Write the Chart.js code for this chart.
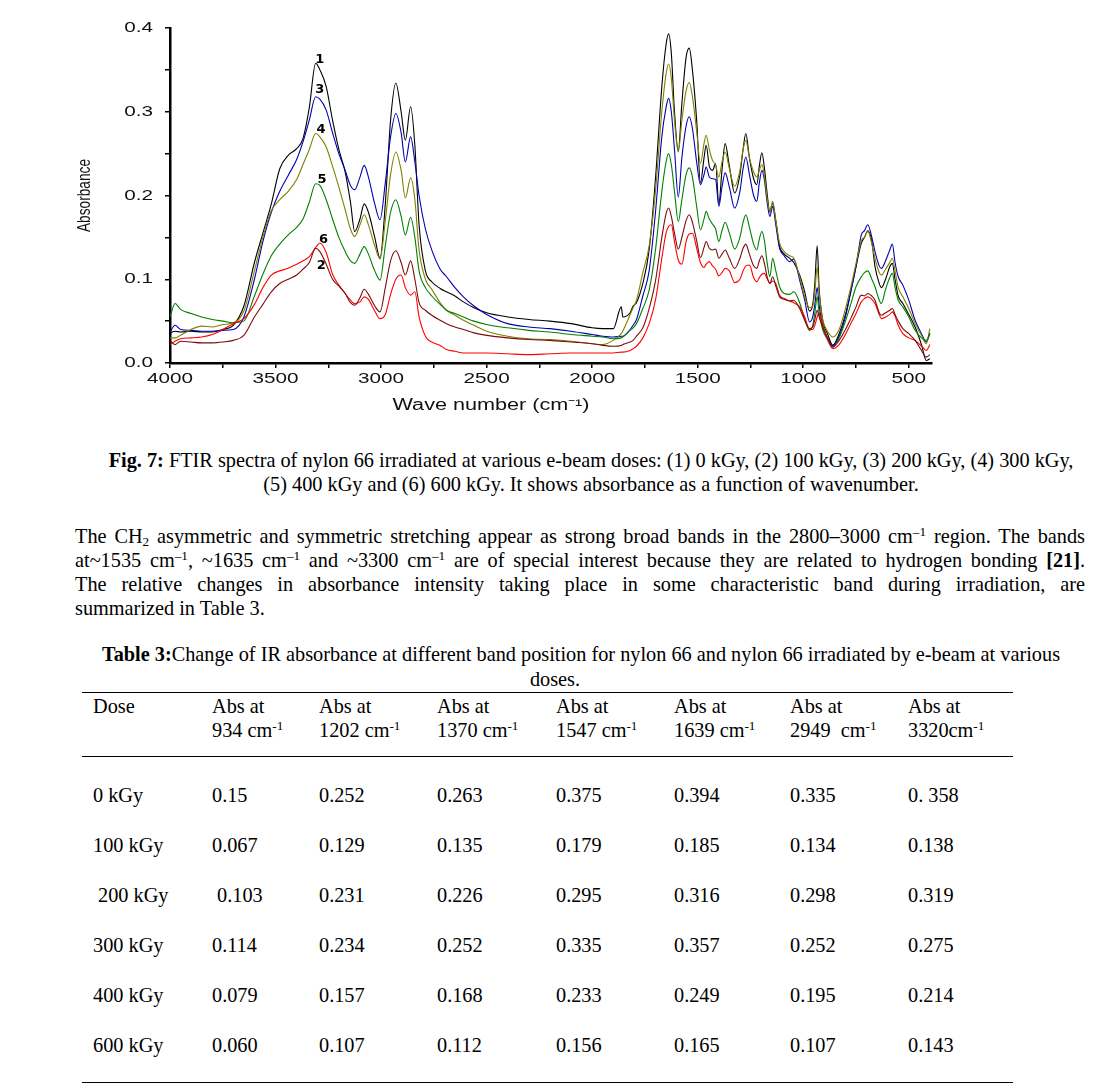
<!DOCTYPE html>
<html>
<head>
<meta charset="utf-8">
<script src="https://cdn.jsdelivr.net/npm/chart.js@4.4.1/dist/chart.umd.min.js"></script>
<style>
  html, body { margin: 0; padding: 0; background: #fff; }
  #page { position: relative; width: 1096px; height: 1092px; overflow: hidden;
          font-family: "Liberation Serif", "Times New Roman", serif; font-size: 20.3px; color: #000; }
  #chartBox { position: absolute; left: 0; top: 0; width: 960px; height: 420px; }
  .line { position: absolute; white-space: nowrap; line-height: 24px; }
  .center { text-align: center; }
  .just { text-align: justify; text-align-last: justify; white-space: normal; }
  sup { font-size: 0.65em; line-height: 0; vertical-align: 0.55em; }
  sub { font-size: 0.65em; line-height: 0; vertical-align: -0.25em; }
  #absTable { position: absolute; left: 82px; top: 692px; width: 931px; border-collapse: collapse;
              table-layout: fixed; font-size: 20.3px; }
  #absTable th { font-weight: normal; text-align: left; vertical-align: top; line-height: 24px;
                 padding: 1px 0 14px 11px; border-top: 1.5px solid #000; border-bottom: 1.5px solid #000; }
  #absTable td { text-align: left; padding: 0 0 0 11px; height: 50px; line-height: 50px; white-space: pre; }
  #absTable tr.gap td { height: 13px; line-height: 13px; }
  #absTable tr.end td { height: 12px; line-height: 12px; border-bottom: 1.5px solid #000; }
</style>
</head>
<body>
<div id="page">
  <div id="chartBox"><canvas id="ftirChart" width="960" height="420"></canvas></div>

  <div class="line center" style="left:91px; top:448px; width:1000px;"><b>Fig. 7:</b> FTIR spectra of nylon 66 irradiated at various e-beam doses: (1) 0 kGy, (2) 100 kGy, (3) 200 kGy, (4) 300 kGy,</div>
  <div class="line center" style="left:91px; top:472px; width:1000px;">(5) 400 kGy and (6) 600 kGy. It shows absorbance as a function of wavenumber.</div>

  <div class="line just" style="left:75px; top:524px; width:1010px;">The CH<sub>2</sub> asymmetric and symmetric stretching appear as strong broad bands in the 2800–3000 cm<sup>–1</sup> region. The bands</div>
  <div class="line just" style="left:75px; top:548px; width:1010px;">at~1535 cm<sup>–1</sup>, ~1635 cm<sup>–1</sup> and ~3300 cm<sup>–1</sup> are of special interest because they are related to hydrogen bonding <b>[21]</b>.</div>
  <div class="line just" style="left:75px; top:572px; width:1010px;">The relative changes in absorbance intensity taking place in some characteristic band during irradiation, are</div>
  <div class="line" style="left:75px; top:596px;">summarized in Table 3.</div>

  <div class="line center" style="left:81px; top:642px; width:1000px;"><b>Table 3:</b>Change of IR absorbance at different band position for nylon 66 and nylon 66 irradiated by e-beam at various</div>
  <div class="line center" style="left:55px; top:667px; width:1000px;">doses.</div>

  <table id="absTable">
    <colgroup>
      <col style="width:119px"><col style="width:107px"><col style="width:118px"><col style="width:119px">
      <col style="width:118px"><col style="width:116px"><col style="width:118px"><col style="width:116px">
    </colgroup>
    <thead><tr id="headRow"></tr></thead>
    <tbody id="tableBody"></tbody>
  </table>
</div>

<script>
// --- Spectra, wavenumber in cm-1 ---
const wavenumbers = [
  4000, 3976, 3950, 3900, 3850, 3800, 3750, 3700, 3650, 3600,
  3560, 3520, 3480, 3440, 3400, 3370, 3340, 3310, 3290, 3260,
  3230, 3200, 3170, 3145, 3125, 3100, 3080, 3060, 3030, 3005,
  2980, 2955, 2930, 2905, 2885, 2860, 2840, 2820, 2790, 2760,
  2720, 2690, 2650, 2610, 2560, 2500, 2400, 2300, 2200, 2100,
  2000, 1950, 1900, 1862, 1855, 1820, 1806, 1790, 1760, 1730,
  1700, 1670, 1650, 1638, 1625, 1610, 1592, 1575, 1555, 1540,
  1525, 1505, 1487, 1470, 1460, 1445, 1430, 1415, 1400, 1385,
  1370, 1350, 1325, 1300, 1285, 1272, 1255, 1235, 1220, 1208,
  1196, 1185, 1170, 1158, 1145, 1130, 1112, 1090, 1064, 1045,
  1017, 993, 970, 955, 945, 934, 925, 907, 885, 860,
  830, 800, 775, 750, 725, 710, 694, 675, 660, 640,
  630, 610, 590, 578, 565, 550, 528, 500, 470, 440,
  417, 400
];

// (1) 0 kGy
const abs0kGy = [
  0.036, 0.038, 0.037, 0.038, 0.037, 0.037, 0.040, 0.045, 0.068, 0.120,
  0.155, 0.190, 0.232, 0.248, 0.256, 0.268, 0.305, 0.358, 0.350, 0.330,
  0.290, 0.255, 0.228, 0.192, 0.157, 0.172, 0.190, 0.180, 0.150, 0.125,
  0.190, 0.290, 0.334, 0.300, 0.266, 0.306, 0.260, 0.165, 0.110, 0.097,
  0.089, 0.085, 0.080, 0.073, 0.066, 0.060, 0.055, 0.052, 0.050, 0.047,
  0.042, 0.041, 0.041, 0.067, 0.055, 0.060, 0.068, 0.072, 0.095, 0.135,
  0.220, 0.330, 0.380, 0.393, 0.370, 0.300, 0.253, 0.310, 0.365, 0.376,
  0.350, 0.290, 0.215, 0.245, 0.260, 0.235, 0.230, 0.238, 0.190, 0.230,
  0.262, 0.235, 0.203, 0.225, 0.255, 0.274, 0.245, 0.220, 0.213, 0.235,
  0.251, 0.235, 0.200, 0.180, 0.191, 0.170, 0.139, 0.130, 0.125, 0.120,
  0.105, 0.085, 0.062, 0.070, 0.095, 0.140, 0.090, 0.050, 0.035, 0.021,
  0.035, 0.058, 0.085, 0.115, 0.143, 0.150, 0.158, 0.145, 0.115, 0.095,
  0.090, 0.100, 0.115, 0.119, 0.100, 0.080, 0.071, 0.058, 0.043, 0.022,
  0.003, 0.005
];

// (2) 100 kGy
const abs100kGy = [
  0.027, 0.022, 0.026, 0.025, 0.024, 0.024, 0.025, 0.027, 0.033, 0.055,
  0.070, 0.085, 0.095, 0.100, 0.105, 0.112, 0.120, 0.137, 0.133, 0.118,
  0.100, 0.092, 0.083, 0.072, 0.069, 0.078, 0.088, 0.082, 0.068, 0.061,
  0.090, 0.122, 0.134, 0.120, 0.105, 0.122, 0.100, 0.072, 0.063, 0.057,
  0.051, 0.047, 0.043, 0.040, 0.036, 0.033, 0.030, 0.028, 0.027, 0.025,
  0.023, 0.021, 0.020, 0.021, 0.022, 0.025, 0.027, 0.032, 0.042, 0.065,
  0.098, 0.150, 0.178, 0.185, 0.175, 0.155, 0.136, 0.150, 0.170, 0.177,
  0.168, 0.146, 0.126, 0.138, 0.145, 0.137, 0.135, 0.136, 0.125, 0.130,
  0.135, 0.125, 0.113, 0.125, 0.137, 0.142, 0.130, 0.116, 0.113, 0.122,
  0.128, 0.120, 0.102, 0.095, 0.103, 0.092, 0.079, 0.076, 0.074, 0.075,
  0.065, 0.051, 0.041, 0.043, 0.052, 0.063, 0.055, 0.043, 0.030, 0.019,
  0.027, 0.040, 0.053, 0.067, 0.081, 0.080, 0.083, 0.080, 0.075, 0.060,
  0.057, 0.060, 0.063, 0.065, 0.058, 0.050, 0.041, 0.035, 0.027, 0.015,
  0.007, 0.010
];

// (3) 200 kGy
const abs200kGy = [
  0.037, 0.045, 0.040, 0.039, 0.038, 0.038, 0.039, 0.040, 0.055, 0.100,
  0.145, 0.180, 0.205, 0.224, 0.243, 0.264, 0.290, 0.318, 0.315, 0.302,
  0.275, 0.250, 0.230, 0.212, 0.207, 0.222, 0.236, 0.222, 0.190, 0.171,
  0.215, 0.270, 0.298, 0.275, 0.240, 0.270, 0.240, 0.200, 0.160, 0.135,
  0.112, 0.103, 0.090, 0.079, 0.068, 0.058, 0.047, 0.043, 0.041, 0.038,
  0.034, 0.032, 0.031, 0.032, 0.032, 0.040, 0.045, 0.052, 0.080, 0.110,
  0.180, 0.270, 0.305, 0.316, 0.300, 0.255, 0.198, 0.245, 0.283, 0.294,
  0.280, 0.240, 0.213, 0.225, 0.234, 0.222, 0.220, 0.219, 0.187, 0.210,
  0.227, 0.210, 0.185, 0.205, 0.232, 0.246, 0.225, 0.200, 0.193, 0.215,
  0.230, 0.220, 0.190, 0.175, 0.187, 0.165, 0.137, 0.128, 0.121, 0.124,
  0.099, 0.075, 0.049, 0.055, 0.070, 0.090, 0.070, 0.043, 0.030, 0.021,
  0.032, 0.055, 0.085, 0.115, 0.153, 0.158, 0.165, 0.150, 0.133, 0.116,
  0.113, 0.122, 0.135, 0.142, 0.120, 0.103, 0.093, 0.075, 0.051, 0.035,
  0.025, 0.035
];

// (4) 300 kGy
const abs300kGy = [
  0.030, 0.030, 0.033, 0.040, 0.044, 0.043, 0.046, 0.048, 0.062, 0.110,
  0.150, 0.182, 0.195, 0.205, 0.219, 0.237, 0.255, 0.274, 0.270, 0.258,
  0.235, 0.210, 0.183, 0.160, 0.151, 0.165, 0.177, 0.165, 0.140, 0.124,
  0.170, 0.225, 0.252, 0.230, 0.197, 0.221, 0.195, 0.135, 0.100, 0.088,
  0.072, 0.063, 0.057, 0.051, 0.045, 0.038, 0.032, 0.029, 0.028, 0.026,
  0.023, 0.022, 0.027, 0.035, 0.038, 0.058, 0.066, 0.075, 0.108, 0.140,
  0.205, 0.300, 0.345, 0.357, 0.340, 0.290, 0.252, 0.290, 0.325, 0.335,
  0.318, 0.277, 0.238, 0.262, 0.272, 0.255, 0.242, 0.236, 0.222, 0.240,
  0.252, 0.232, 0.211, 0.230, 0.255, 0.266, 0.245, 0.228, 0.222, 0.230,
  0.237, 0.225, 0.195, 0.180, 0.193, 0.170, 0.143, 0.133, 0.128, 0.125,
  0.103, 0.079, 0.066, 0.068, 0.085, 0.115, 0.085, 0.051, 0.038, 0.031,
  0.040, 0.065, 0.090, 0.119, 0.146, 0.150, 0.157, 0.142, 0.125, 0.108,
  0.105, 0.112, 0.120, 0.125, 0.110, 0.090, 0.079, 0.065, 0.047, 0.033,
  0.023, 0.041
];

// (5) 400 kGy
const abs400kGy = [
  0.055, 0.071, 0.064, 0.059, 0.055, 0.052, 0.050, 0.048, 0.050, 0.080,
  0.106, 0.128, 0.142, 0.153, 0.162, 0.172, 0.192, 0.214, 0.212, 0.195,
  0.172, 0.150, 0.133, 0.122, 0.119, 0.130, 0.139, 0.130, 0.110, 0.099,
  0.140, 0.180, 0.195, 0.175, 0.153, 0.174, 0.150, 0.110, 0.090, 0.080,
  0.070, 0.063, 0.059, 0.055, 0.050, 0.046, 0.042, 0.039, 0.037, 0.034,
  0.032, 0.031, 0.029, 0.030, 0.031, 0.039, 0.042, 0.047, 0.065, 0.087,
  0.135, 0.205, 0.240, 0.250, 0.237, 0.205, 0.169, 0.195, 0.225, 0.233,
  0.222, 0.187, 0.159, 0.172, 0.181, 0.172, 0.166, 0.160, 0.145, 0.158,
  0.168, 0.155, 0.136, 0.150, 0.168, 0.177, 0.162, 0.142, 0.135, 0.148,
  0.157, 0.148, 0.118, 0.103, 0.125, 0.110, 0.091, 0.083, 0.082, 0.085,
  0.072, 0.052, 0.039, 0.045, 0.060, 0.079, 0.060, 0.039, 0.028, 0.019,
  0.030, 0.050, 0.070, 0.091, 0.103, 0.108, 0.110, 0.100, 0.091, 0.075,
  0.071, 0.088, 0.102, 0.107, 0.090, 0.075, 0.067, 0.055, 0.039, 0.030,
  0.027, 0.036
];

// (6) 600 kGy
const abs600kGy = [
  0.022, 0.026, 0.029, 0.030, 0.031, 0.034, 0.040, 0.047, 0.053, 0.070,
  0.090, 0.105, 0.110, 0.113, 0.118, 0.122, 0.127, 0.138, 0.143, 0.132,
  0.106, 0.093, 0.083, 0.075, 0.071, 0.073, 0.079, 0.076, 0.062, 0.053,
  0.058, 0.082, 0.100, 0.105, 0.090, 0.081, 0.085, 0.055, 0.032, 0.025,
  0.021, 0.016, 0.014, 0.012, 0.012, 0.012, 0.011, 0.010, 0.011, 0.012,
  0.012, 0.012, 0.012, 0.013, 0.013, 0.015, 0.017, 0.020, 0.030, 0.047,
  0.075, 0.125, 0.155, 0.163, 0.165, 0.145, 0.123, 0.118, 0.145, 0.154,
  0.155, 0.137, 0.120, 0.114, 0.118, 0.121, 0.116, 0.112, 0.104, 0.108,
  0.113, 0.110, 0.096, 0.100, 0.110, 0.116, 0.117, 0.102, 0.097, 0.102,
  0.106, 0.107, 0.100, 0.095, 0.098, 0.095, 0.081, 0.077, 0.074, 0.072,
  0.067, 0.055, 0.040, 0.040, 0.045, 0.055, 0.060, 0.043, 0.028, 0.017,
  0.022, 0.034, 0.047, 0.059, 0.073, 0.077, 0.079, 0.076, 0.071, 0.058,
  0.053, 0.055, 0.058, 0.061, 0.056, 0.045, 0.035, 0.030, 0.027, 0.020,
  0.015, 0.022
];

// --- Axis ticks ---
const xTickValues = [4000, 3750, 3500, 3250, 3000, 2750, 2500, 2250, 2000, 1750, 1500, 1250, 1000, 750, 500];
const yTickValues = [0, 0.05, 0.1, 0.15, 0.2, 0.25, 0.3, 0.35, 0.4];

// --- Curve numbers placed near the 3300 cm-1 band ---
const peakLabels = [
  { text: '1', wn: 3290, abs: 0.362 },
  { text: '3', wn: 3290, abs: 0.326 },
  { text: '4', wn: 3285, abs: 0.279 },
  { text: '5', wn: 3280, abs: 0.219 },
  { text: '6', wn: 3273, abs: 0.147 },
  { text: '2', wn: 3283, abs: 0.116 }
];

// --- Table 3 ---
const tableHeaders = ['Dose', 'Abs at<br>934 cm<sup>-1</sup>', 'Abs at<br>1202 cm<sup>-1</sup>', 'Abs at<br>1370 cm<sup>-1</sup>',
  'Abs at<br>1547 cm<sup>-1</sup>', 'Abs at<br>1639 cm<sup>-1</sup>', 'Abs at<br>2949&nbsp; cm<sup>-1</sup>', 'Abs at<br>3320cm<sup>-1</sup>'];
const doseLabels = ['0 kGy', '100 kGy', ' 200 kGy', '300 kGy', '400 kGy', '600 kGy'];
const absAt934 = ['0.15', '0.067', ' 0.103', '0.114', '0.079', '0.060'];
const absAt1202 = ['0.252', '0.129', '0.231', '0.234', '0.157', '0.107'];
const absAt1370 = ['0.263', '0.135', '0.226', '0.252', '0.168', '0.112'];
const absAt1547 = ['0.375', '0.179', '0.295', '0.335', '0.233', '0.156'];
const absAt1639 = ['0.394', '0.185', '0.316', '0.357', '0.249', '0.165'];
const absAt2949 = ['0.335', '0.134', '0.298', '0.252', '0.195', '0.107'];
const absAt3320 = ['0. 358', '0.138', '0.319', '0.275', '0.214', '0.143'];

// --- Build table ---
const headRow = document.getElementById('headRow');
tableHeaders.forEach(h => {
  const th = document.createElement('th');
  th.innerHTML = h;
  headRow.appendChild(th);
});
const tableBody = document.getElementById('tableBody');
const gap = document.createElement('tr');
gap.className = 'gap';
gap.innerHTML = '<td colspan="8"></td>';
tableBody.appendChild(gap);
doseLabels.forEach((dose, i) => {
  const tr = document.createElement('tr');
  [dose, absAt934[i], absAt1202[i], absAt1370[i], absAt1547[i], absAt1639[i], absAt2949[i], absAt3320[i]].forEach(v => {
    const td = document.createElement('td');
    td.textContent = v;
    tr.appendChild(td);
  });
  tableBody.appendChild(tr);
});
const endRow = document.createElement('tr');
endRow.className = 'end';
endRow.innerHTML = '<td colspan="8"></td>';
tableBody.appendChild(endRow);

// --- Chart ---
const seriesList = [
  { label: '(2) 100 kGy', values: abs100kGy, color: '#7b0c0c' },
  { label: '(6) 600 kGy', values: abs600kGy, color: '#ff0000' },
  { label: '(5) 400 kGy', values: abs400kGy, color: '#008000' },
  { label: '(4) 300 kGy', values: abs300kGy, color: '#808000' },
  { label: '(3) 200 kGy', values: abs200kGy, color: '#0000b0' },
  { label: '(1) 0 kGy', values: abs0kGy, color: '#000000' }
];

const axisFont = '"Liberation Sans", Arial, sans-serif';

// the original figure uses a horizontally stretched sans for its axis text
function drawStretched(ctx, text, px, py, align, sx) {
  ctx.save();
  ctx.translate(px, py);
  ctx.scale(sx, 1);
  ctx.textAlign = align;
  ctx.fillText(text, 0, 0);
  ctx.restore();
}

const textPlugin = {
  id: 'figureText',
  afterDraw(chart) {
    const { ctx, scales: { x, y } } = chart;
    ctx.save();
    ctx.fillStyle = '#111';
    ctx.textBaseline = 'middle';

    // tick labels
    ctx.font = '15px ' + axisFont;
    x.ticks.forEach(t => {
      if (t.value % 500 === 0) drawStretched(ctx, String(t.value), x.getPixelForValue(t.value), x.top + 16, 'center', 1.38);
    });
    y.ticks.forEach((t, i) => {
      if (i % 2 === 0) drawStretched(ctx, t.value.toFixed(1), y.right - 17, y.getPixelForValue(t.value), 'right', 1.38);
    });

    // curve numbers
    ctx.fillStyle = '#000';
    ctx.font = 'bold 13px "DejaVu Sans", sans-serif';
    ctx.textAlign = 'center';
    peakLabels.forEach(p => {
      ctx.fillText(p.text, x.getPixelForValue(p.wn), y.getPixelForValue(p.abs));
    });

    // x axis title
    ctx.fillStyle = '#111';
    ctx.font = '16px ' + axisFont;
    const xTitle = 'Wave number (cm⁻¹)';
    drawStretched(ctx, xTitle, 491, x.top + 43, 'center', 197 / ctx.measureText(xTitle).width);

    // y axis title (condensed)
    ctx.save();
    ctx.translate(85, (y.top + y.bottom) / 2);
    ctx.rotate(-Math.PI / 2);
    ctx.font = '18px ' + axisFont;
    const yTitle = 'Absorbance';
    ctx.scale(73 / ctx.measureText(yTitle).width, 1);
    ctx.textAlign = 'center';
    ctx.fillText(yTitle, 0, 0);
    ctx.restore();

    ctx.restore();
  }
};

const ctx = document.getElementById('ftirChart').getContext('2d');
const ftirChart = new Chart(ctx, {
  type: 'line',
  data: {
    datasets: seriesList.map(s => ({
      label: s.label,
      data: wavenumbers.map((w, i) => ({ x: w, y: s.values[i] })),
      borderColor: s.color,
      borderWidth: 1.1,
      pointRadius: 0,
      fill: false,
      cubicInterpolationMode: 'monotone'
    }))
  },
  options: {
    responsive: false,
    animation: false,
    layout: { padding: { left: 0, top: 28, right: 28, bottom: 0 } },
    plugins: { legend: { display: false }, tooltip: { enabled: false } },
    scales: {
      x: {
        type: 'linear',
        reverse: true,
        min: 390,
        max: 4000,
        afterBuildTicks: s => { s.ticks = xTickValues.map(v => ({ value: v })); },
        afterFit: s => { s.height = 57; },
        ticks: { autoSkip: false, maxRotation: 0, callback: () => '' },
        grid: { drawOnChartArea: false, drawTicks: true, tickLength: 5, color: '#000', lineWidth: 1.5 },
        border: { color: '#000', width: 2.5 }
      },
      y: {
        min: 0,
        max: 0.4,
        afterBuildTicks: s => { s.ticks = yTickValues.map(v => ({ value: v })); },
        afterFit: s => { s.width = 170; },
        ticks: { callback: () => '' },
        grid: { drawOnChartArea: false, drawTicks: true, tickLength: 5, color: '#000', lineWidth: 1.5 },
        border: { color: '#000', width: 2.5 }
      }
    }
  },
  plugins: [textPlugin]
});
</script>
</body>
</html>
